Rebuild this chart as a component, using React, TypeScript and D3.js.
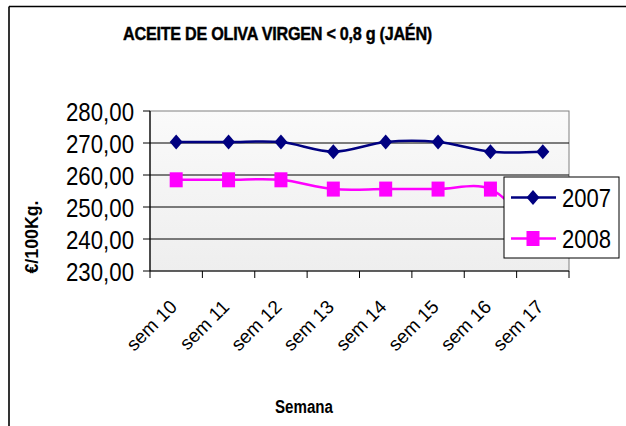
import React from 'react';
import * as d3 from 'd3';

// weekly price, olive oil < 0,8 g (Jaén), €/100Kg.
const weeks = ['sem 10', 'sem 11', 'sem 12', 'sem 13', 'sem 14', 'sem 15', 'sem 16', 'sem 17'];
const prices2007 = [270.3, 270.3, 270.3, 267.3, 270.3, 270.3, 267.3, 267.3];
const prices2008 = [258.5, 258.5, 258.5, 255.6, 255.6, 255.6, 255.6, 239.0];
const yTicks = [230, 240, 250, 260, 270, 280];
const gridTicks = [240, 250, 260, 270];

const W = 626;
const H = 426;
const margin = { left: 150, top: 111, right: 57, bottom: 155 };
const font = '"Liberation Sans", Arial, sans-serif';

const fmt = (v: number) => v.toFixed(2).replace('.', ',');

function Diamond({ cx, cy, fill }: { cx: number; cy: number; fill: string }) {
  const w = 6.5, h = 7.5;
  return <polygon points={`${cx},${cy - h} ${cx + w},${cy} ${cx},${cy + h} ${cx - w},${cy}`} fill={fill} />;
}

function Square({ cx, cy, fill }: { cx: number; cy: number; fill: string }) {
  return <rect x={cx - 6.5} y={cy - 7.5} width={13} height={15} fill={fill} />;
}

export default function App() {
  const innerW = W - margin.left - margin.right;
  const innerH = H - margin.top - margin.bottom;

  const x = d3.scaleBand().domain(weeks).range([margin.left, margin.left + innerW]);
  const y = d3.scaleLinear().domain([230, 280]).range([margin.top + innerH, margin.top]);
  const cx = (i: number) => (x(weeks[i]) as number) + x.bandwidth() / 2;

  const line = d3.line<number>()
    .x((d, i) => cx(i))
    .y(d => y(d))
    .curve(d3.curveCatmullRom.alpha(0.5));

  const series = [
    { name: '2007', values: prices2007, color: '#000080', Marker: Diamond },
    { name: '2008', values: prices2008, color: '#ff00ff', Marker: Square }
  ];

  const x0 = margin.left, x1 = margin.left + innerW;
  const y0 = margin.top + innerH, y1 = margin.top;
  const tickEdges = weeks.map(w => x(w) as number).concat([x1]);

  return (
    <svg width={W} height={H} style={{ position: 'absolute', left: 0, top: 0, background: '#fff' }} fontFamily={font}>
      <defs>
        <linearGradient id="plotBg" x1="0" y1="0" x2="0" y2="1">
          <stop offset="0%" stopColor="#fafafa" />
          <stop offset="100%" stopColor="#eeeeee" />
        </linearGradient>
        <clipPath id="labelClip">
          <rect x={0} y={299.5} width={W} height={H - 299.5} />
        </clipPath>
      </defs>

      {/* chart frame (cropped: only top and left edges) */}
      <line x1={9} y1={6.5} x2={W} y2={6.5} stroke="#000" strokeWidth={1.6} />
      <line x1={9} y1={6.5} x2={9} y2={H} stroke="#000" strokeWidth={1.6} />

      <text transform="translate(277.5,40) scale(0.9,1)" textAnchor="middle" fontSize={18} fontWeight="bold"
        letterSpacing={-0.3} stroke="#000" strokeWidth={0.4}>
        ACEITE DE OLIVA VIRGEN &lt; 0,8 g (JAÉN)
      </text>

      {/* plot area */}
      <rect x={x0} y={y1} width={innerW} height={innerH} fill="url(#plotBg)" stroke="#808080" strokeWidth={1} />
      {gridTicks.map(t => (
        <line key={t} x1={x0} x2={x1} y1={y(t)} y2={y(t)} stroke="#000" strokeWidth={1} />
      ))}

      {/* y axis */}
      <line x1={x0} x2={x0} y1={y1} y2={y0} stroke="#000" strokeWidth={1.2} />
      {yTicks.map(t => (
        <g key={t}>
          <line x1={x0 - 7} x2={x0} y1={y(t)} y2={y(t)} stroke="#000" strokeWidth={1} />
          <text x={134} y={y(t) + 10} textAnchor="end" fontSize={26} textLength={68} lengthAdjust="spacingAndGlyphs">
            {fmt(t)}
          </text>
        </g>
      ))}
      <text transform={`translate(38,237) rotate(-90)`} textAnchor="middle" fontSize={18} fontWeight="bold" textLength={73} lengthAdjust="spacingAndGlyphs">
        €/100Kg.
      </text>

      {/* x axis */}
      <line x1={x0} x2={x1} y1={y0} y2={y0} stroke="#000" strokeWidth={1.2} />
      {tickEdges.map((t, i) => (
        <line key={i} x1={t} x2={t} y1={y0} y2={y0 + 7} stroke="#000" strokeWidth={1} />
      ))}
      <g clipPath="url(#labelClip)">
        {weeks.map((w, i) => (
          <text key={w} transform={`translate(${cx(i) + 2},308) rotate(-45)`} textAnchor="end" fontSize={19}>
            {w}
          </text>
        ))}
      </g>
      <text x={304} y={413} textAnchor="middle" fontSize={18} fontWeight="bold" textLength={58} lengthAdjust="spacingAndGlyphs">
        Semana
      </text>

      {/* series */}
      {series.map(s => (
        <g key={s.name}>
          <path d={line(s.values) || ''} fill="none" stroke={s.color} strokeWidth={2.5} />
          {s.values.map((v, i) => (
            <s.Marker key={i} cx={cx(i)} cy={y(v)} fill={s.color} />
          ))}
        </g>
      ))}

      {/* legend */}
      <rect x={504} y={177} width={115} height={81} fill="#fff" stroke="#000" strokeWidth={1} />
      {series.map((s, i) => {
        const ly = 197.5 + i * 41;
        return (
          <g key={s.name}>
            <line x1={511} x2={556} y1={ly} y2={ly} stroke={s.color} strokeWidth={2.5} />
            <s.Marker cx={533} cy={ly} fill={s.color} />
            <text x={562} y={ly + 9.3} fontSize={26} textLength={49} lengthAdjust="spacingAndGlyphs">{s.name}</text>
          </g>
        );
      })}
    </svg>
  );
}
